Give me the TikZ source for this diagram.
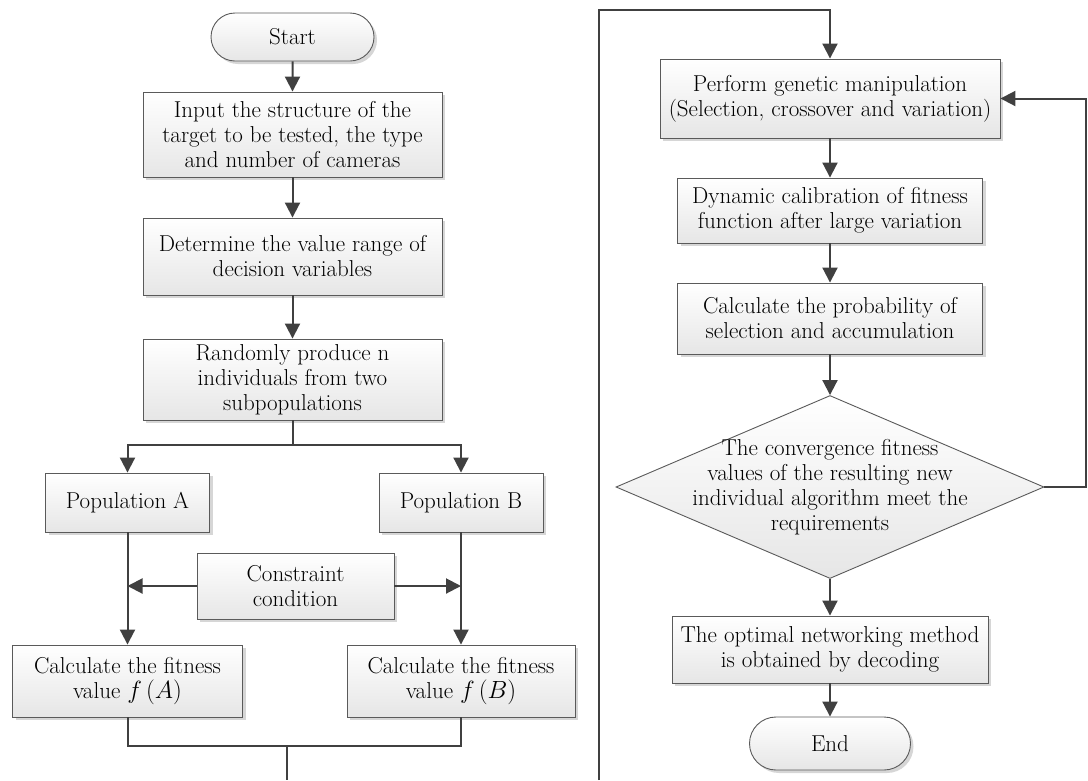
\documentclass[tikz,border=0pt]{standalone}
\usepackage{fontspec}
\usetikzlibrary{arrows.meta,shapes.geometric,shapes.misc,shadows}
\definecolor{linegray}{HTML}{404040}
\definecolor{boxedge}{HTML}{5A5A5A}
\definecolor{boxlow}{HTML}{E6E6E6}
\definecolor{shadegray}{HTML}{D6D6D6}

\begin{document}
\begin{tikzpicture}[x=1pt, y=-1pt, >={Triangle[length=15pt,width=15pt]},
    font=\fontsize{23}{25}\selectfont,
    procbox/.style={rectangle, draw=boxedge, line width=0.9pt, top color=white, bottom color=boxlow,
        drop shadow={shadow xshift=3pt, shadow yshift=-3pt, fill=shadegray, opacity=1},
        align=center, inner sep=2pt},
    termbox/.style={procbox, rounded rectangle},
    flow/.style={->, line width=2pt, draw=linegray},
    wire/.style={line width=2pt, draw=linegray}]
    \useasboundingbox (0,0) rectangle (1088,780);

    % Draw left column
    \node[termbox, minimum width=167pt, minimum height=48pt] (start) at (292.5,37) {Start};
    \node[procbox, minimum width=299pt, minimum height=85pt] (input) at (292.5,134.5)
        {Input the structure of the\\target to be tested, the type\\and number of cameras};
    \node[procbox, minimum width=299pt, minimum height=77pt] (range) at (292.5,256.5)
        {Determine the value range of\\decision variables};
    \node[procbox, minimum width=299pt, minimum height=81pt] (random) at (292.5,379.5)
        {Randomly produce n\\individuals from two\\subpopulations};
    \node[procbox, minimum width=164pt, minimum height=59pt] (popA) at (127.5,502.5) {Population A};
    \node[procbox, minimum width=164pt, minimum height=59pt] (popB) at (461,502.5) {Population B};
    \node[procbox, minimum width=197pt, minimum height=66pt] (constraint) at (295.5,586)
        {Constraint\\condition};
    \node[procbox, minimum width=230pt, minimum height=72pt] (fitA) at (127.5,681)
        {Calculate the fitness\\value $f\,(A)$};
    \node[procbox, minimum width=228pt, minimum height=72pt] (fitB) at (461,681)
        {Calculate the fitness\\value $f\,(B)$};

    % Draw right column
    \node[procbox, minimum width=340pt, minimum height=79pt] (genetic) at (830,98.5)
        {Perform genetic manipulation\\(Selection, crossover and variation)};
    \node[procbox, minimum width=305pt, minimum height=65pt] (calib) at (830,210.5)
        {Dynamic calibration of fitness\\function after large variation};
    \node[procbox, minimum width=305pt, minimum height=71pt] (prob) at (830,318.5)
        {Calculate the probability of\\selection and accumulation};
    \node[diamond, draw=boxedge, line width=0.9pt, top color=white, bottom color=boxlow,
        inner sep=0pt, minimum width=428pt, minimum height=183pt] (check) at (830,487) {};
    \node[align=center] (checktext) at (check)
        {The convergence fitness\\values of the resulting new\\individual algorithm meet the\\requirements};
    \node[procbox, minimum width=316pt, minimum height=67pt] (optimal) at (830,649.5)
        {The optimal networking method\\is obtained by decoding};
    \node[termbox, minimum width=165pt, minimum height=53pt] (finish) at (830,743.5) {End};

    % Draw connectors
    \coordinate (split) at (292.5,445);
    \coordinate (mergeL) at (287,746);
    \coordinate (exitL) at (287,780);
    \coordinate (entryR) at (599,780);
    \coordinate (topR) at (599,10);
    \coordinate (loopR) at (1086,487);

    \draw[flow] (start) -- (input);
    \draw[flow] (input) -- (range);
    \draw[flow] (range) -- (random);
    \draw[wire] (random) -- (split);
    \draw[flow] (split) -| (popA);
    \draw[flow] (split) -| (popB);
    \draw[flow] (popA) -- (fitA);
    \draw[flow] (popB) -- (fitB);
    \draw[flow] (constraint.west) -- (constraint.west -| popA.south);
    \draw[flow] (constraint.east) -- (constraint.east -| popB.south);
    \draw[wire] (fitA.south) |- (mergeL) -| (fitB.south);
    \draw[wire] (mergeL) -- (exitL);

    \draw[flow] (entryR) -- (topR) -| (genetic.north);
    \draw[flow] (genetic) -- (calib);
    \draw[flow] (calib) -- (prob);
    \draw[flow] (prob.south) -- (check.north);
    \draw[flow] (check.south) -- (optimal.north);
    \draw[flow] (optimal) -- (finish);
    \draw[flow] (check.east) -- (loopR) |- (genetic.east);
\end{tikzpicture}
\end{document}
